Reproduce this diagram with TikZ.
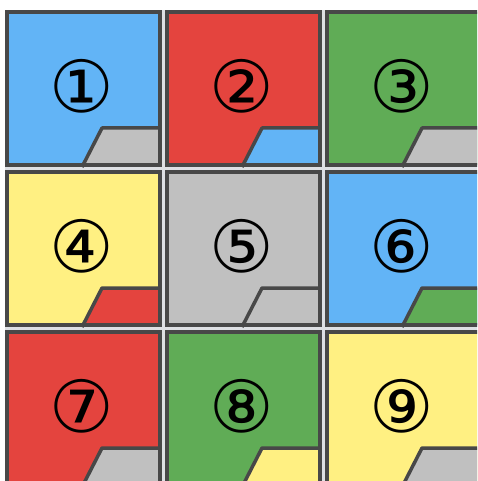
\documentclass[tikz,border=0pt]{standalone}
\usepackage{fontspec}
\newfontfamily\circfont{DejaVu Sans}
\definecolor{tileblue}{RGB}{98,180,246}
\definecolor{tilered}{RGB}{228,68,62}
\definecolor{tilegreen}{RGB}{96,172,86}
\definecolor{tileyellow}{RGB}{255,240,130}
\definecolor{tilegray}{RGB}{192,192,192}
\definecolor{edge}{RGB}{72,72,72}
\definecolor{gapline}{RGB}{222,224,228}
\tikzset{
  tile/.style={draw=edge,line width=4.5pt},
  cut/.style={draw=edge,line width=3.5pt,line join=round},
  num/.style={font=\circfont\fontsize{72}{72}\selectfont,inner sep=0pt}
}
\begin{document}
\begin{tikzpicture}[x=1pt,y=-1pt]
\useasboundingbox (0,0) rectangle (477,481);
\fill[white] (0,0) rectangle (477,481);
\clip (0,0) rectangle (477,481);
\fill[gapline] (5,10) rectangle (490,490);
% tiles: number / colour / corner colour
\foreach \n/\c/\k [count=\i from 0] in {①/tileblue/tilegray,②/tilered/tileblue,③/tilegreen/tilegray,
  ④/tileyellow/tilered,⑤/tilegray/tilegray,⑥/tileblue/tilegreen,
  ⑦/tilered/tilegray,⑧/tilegreen/tileyellow,⑨/tileyellow/tilegray}{
  \pgfmathsetmacro\x{5+160*mod(\i,3)}
  \pgfmathsetmacro\y{10+160*int(\i/3)}
  \begin{scope}[shift={(\x,\y)}]
    \fill[\c] (2,2) rectangle (155,155);
    \fill[\k] (77,155) -- (97,118) -- (155,118) -- (155,155) -- cycle;
    \draw[cut] (77,157) -- (97,118) -- (155,118);
    \draw[tile] (2,2) rectangle (155,155);
    \node[num] (n\i) at (77,76) {\n};
  \end{scope}
}
\end{tikzpicture}
\end{document}
